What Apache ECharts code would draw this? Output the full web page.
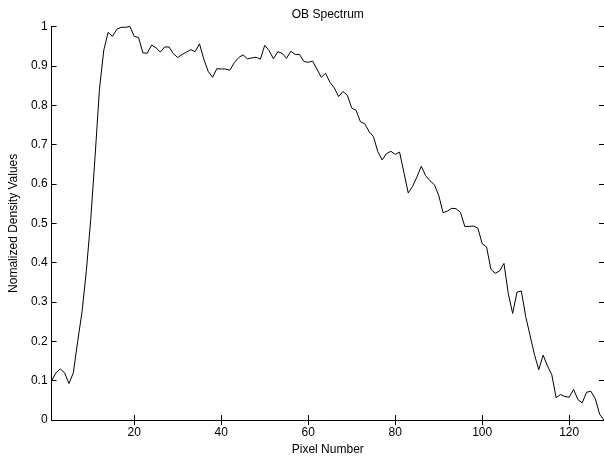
<!DOCTYPE html>
<html>
<head>
<meta charset="utf-8">
<title>OB Spectrum</title>
<script src="https://cdn.jsdelivr.net/npm/echarts@6/dist/echarts.min.js"></script>
<style>
  html, body { margin: 0; padding: 0; background: #fff; }
  #chart { width: 604px; height: 461px; }
</style>
</head>
<body>
<div id="chart"></div>
<script>
// Normalized density per pixel (pixels 1..128)
const density = [
  0.100, 0.120, 0.130, 0.120, 0.093, 0.120, 0.200, 0.275, 0.380, 0.510,
  0.670, 0.840, 0.940, 0.985, 0.975, 0.993, 0.998, 0.998, 1.000, 0.975,
  0.972, 0.933, 0.932, 0.953, 0.946, 0.935, 0.948, 0.948, 0.931, 0.921,
  0.929, 0.935, 0.941, 0.936, 0.956, 0.917, 0.886, 0.871, 0.893, 0.892,
  0.892, 0.889, 0.908, 0.921, 0.928, 0.918, 0.920, 0.922, 0.917, 0.952,
  0.939, 0.918, 0.936, 0.932, 0.919, 0.937, 0.929, 0.929, 0.911, 0.909,
  0.912, 0.892, 0.871, 0.881, 0.858, 0.844, 0.822, 0.835, 0.825, 0.793,
  0.787, 0.758, 0.753, 0.733, 0.720, 0.682, 0.661, 0.677, 0.683, 0.675,
  0.681, 0.629, 0.577, 0.594, 0.618, 0.645, 0.621, 0.608, 0.598, 0.571,
  0.527, 0.531, 0.538, 0.537, 0.528, 0.492, 0.492, 0.493, 0.488, 0.448,
  0.440, 0.383, 0.373, 0.379, 0.398, 0.321, 0.271, 0.325, 0.328, 0.263,
  0.215, 0.167, 0.128, 0.165, 0.138, 0.115, 0.057, 0.065, 0.060, 0.058,
  0.078, 0.052, 0.044, 0.071, 0.073, 0.054, 0.015, 0.000
];
const pixels = density.map((_, i) => i + 1);
const xTicks = [20, 40, 60, 80, 100, 120];

const FONT = 'Liberation Sans, Arial, Helvetica, sans-serif';
const ink = '#000';

const chart = echarts.init(document.getElementById('chart'), null, { renderer: 'canvas' });

const frameX = {
  type: 'value', min: 1, max: 128,
  splitLine: { show: false },
  axisLine: { show: true, lineStyle: { color: ink, width: 1 } },
  axisTick: { show: true, inside: true, length: 5, customValues: xTicks, lineStyle: { color: ink } }
};
const frameY = {
  type: 'value', min: 0, max: 1, interval: 0.1,
  splitLine: { show: false },
  axisLine: { show: true, lineStyle: { color: ink, width: 1 } },
  axisTick: { show: true, inside: true, length: 5, lineStyle: { color: ink } }
};

chart.setOption({
  animation: false,
  backgroundColor: '#fff',
  grid: { left: 44.5, top: 26.5, width: 560, height: 400, containLabel: false },
  xAxis: [
    Object.assign({}, frameX, {
      position: 'bottom',
      name: 'Pixel Number', nameLocation: 'middle', nameGap: 20,
      nameTextStyle: { color: ink, fontFamily: FONT, fontSize: 12 },
      axisLabel: { show: true, customValues: xTicks, margin: 7, color: ink, fontFamily: FONT, fontSize: 12 }
    }),
    Object.assign({}, frameX, {
      position: 'top',
      name: 'OB Spectrum', nameLocation: 'middle', nameGap: 6,
      nameTextStyle: { color: ink, fontFamily: FONT, fontSize: 12 },
      axisLabel: { show: false }
    })
  ],
  yAxis: [
    Object.assign({}, frameY, {
      position: 'left',
      name: 'Nomalized Density Values', nameLocation: 'middle', nameGap: 26,
      nameTextStyle: { color: ink, fontFamily: FONT, fontSize: 12 },
      axisLabel: { show: true, margin: 4, color: ink, fontFamily: FONT, fontSize: 12 }
    }),
    Object.assign({}, frameY, {
      position: 'right',
      axisLabel: { show: false }
    })
  ],
  series: [{
    type: 'line',
    data: pixels.map((p, i) => [p, density[i]]),
    xAxisIndex: 0, yAxisIndex: 0,
    showSymbol: false,
    lineStyle: { color: ink, width: 1 },
    clip: true
  }]
});
</script>
</body>
</html>
